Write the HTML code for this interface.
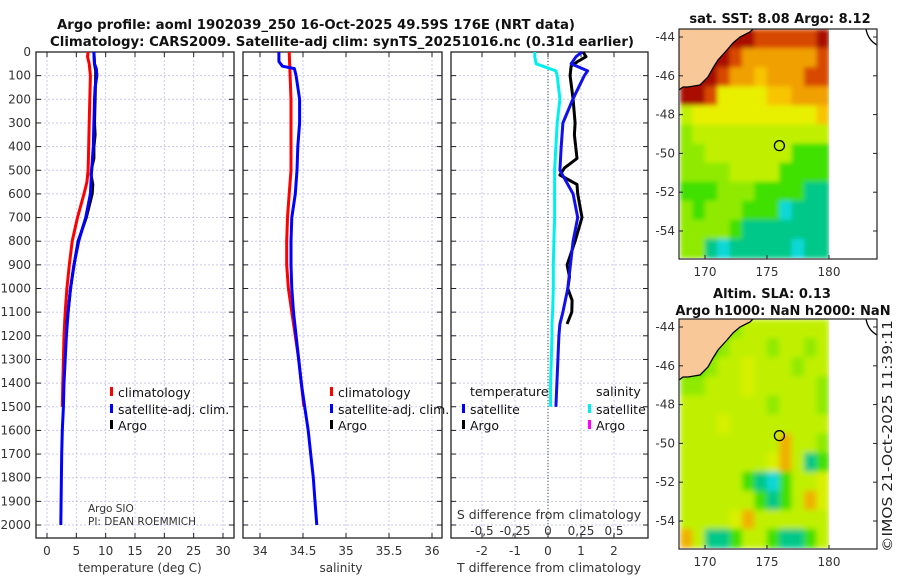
<!DOCTYPE html>
<html><head><meta charset="utf-8"><style>
html,body{margin:0;padding:0;background:#fff;}
svg{display:block;font-family:"DejaVu Sans","Liberation Sans",sans-serif;}
.tk{font-size:12px;fill:#333;}
.lg{font-size:12.5px;fill:#111;}
.tt{font-size:13px;font-weight:bold;fill:#111;}
</style></head><body>
<svg id="fig" width="900" height="580" viewBox="0 0 900 580" xmlns="http://www.w3.org/2000/svg">
<defs>
<filter id="blur1" x="0" y="0" width="1" height="1" filterUnits="objectBoundingBox"><feGaussianBlur stdDeviation="2.5" edgeMode="duplicate"/></filter>
<filter id="blur2" x="0" y="0" width="1" height="1" filterUnits="objectBoundingBox"><feGaussianBlur stdDeviation="3" edgeMode="duplicate"/></filter>
<clipPath id="clip1"><rect x="680" y="29" width="149" height="229"/></clipPath>
<clipPath id="clip2"><rect x="680" y="319" width="149" height="229"/></clipPath>
</defs>
<text class="tt" x="57" y="29" textLength="518" lengthAdjust="spacingAndGlyphs">Argo profile: aoml 1902039_250 16-Oct-2025 49.59S 176E (NRT data)</text>
<text class="tt" x="50" y="46" textLength="584" lengthAdjust="spacingAndGlyphs">Climatology: CARS2009. Satellite-adj clim: synTS_20251016.nc (0.31d earlier)</text>
<g id="panels"></g>
<g id="maps"></g>
<text class="tk" transform="translate(892,436) rotate(-90)" text-anchor="middle" textLength="232" lengthAdjust="spacingAndGlyphs" style="font-size:13px;fill:#222">©IMOS 21-Oct-2025 11:39:11</text>
</svg>
<script>
// ---------- data ----------
const depthTicks = [0,100,200,300,400,500,600,700,800,900,1000,1100,1200,1300,1400,1500,1600,1700,1800,1900,2000];
const tempTicks = [0,5,10,15,20,25,30];
const salTicks = [34,34.5,35,35.5,36];
const salTickLabels = ['34','34.5','35','35.5','36'];
const tdiffTicks = [-2,-1,0,1,2];
const sdiffTickLabels = ['-0,5','-0,25','0','0,25','0,5'];
const sdiffTicks = [-0.5,-0.25,0,0.25,0.5];

const climTempDepth = [0,20,50,100,200,300,400,500,550,600,700,800,900,1000,1100,1200,1300,1400,1500];
const climTemp      = [7.0,6.9,7.2,7.4,7.3,7.2,7.1,7.0,6.8,6.3,5.2,4.3,3.8,3.4,3.1,2.9,2.8,2.7,2.6];
const satTempDepth = [0,50,70,100,150,200,300,400,500,600,700,800,900,1000,1100,1200,1300,1400,1500,1600,1700,1800,1900,2000];
const satTemp      = [8.0,8.1,8.4,8.5,8.2,8.1,8.0,7.9,7.6,7.4,6.6,5.4,4.6,4.0,3.6,3.3,3.1,2.9,2.8,2.6,2.5,2.45,2.4,2.35];
const argoTempDepth = [5,50,80,100,200,300,350,400,450,480,520,560,600,700,800,900,1000,1100,1150];
const argoTemp      = [8.0,8.1,8.3,8.3,8.2,8.1,8.2,8.0,8.0,7.7,7.5,7.8,7.7,6.7,5.3,4.6,4.0,3.6,3.4];

const climSalDepth = [0,100,200,300,500,600,700,800,900,1000,1100,1200,1300,1400,1500];
const climSal      = [34.34,34.35,34.36,34.36,34.36,34.34,34.32,34.31,34.31,34.33,34.37,34.41,34.45,34.48,34.51];
const satSalDepth = [0,40,60,70,100,200,300,400,500,600,700,800,900,1000,1100,1200,1300,1400,1500,1600,1700,1800,1900,2000];
const satSal      = [34.22,34.22,34.26,34.40,34.42,34.46,34.46,34.44,34.43,34.41,34.37,34.36,34.36,34.37,34.39,34.42,34.45,34.48,34.52,34.56,34.59,34.62,34.64,34.66];

const diffDepth = [0,20,50,80,100,200,300,400,500,600,700,800,900,1000,1100,1150,1200,1300,1400,1500];
const satTdiff  = [1.03,0.85,0.7,1.2,1.1,0.75,0.45,0.4,0.36,0.76,0.9,0.76,0.68,0.6,0.45,0.36,0.33,0.3,0.27,0.24];
const satSdiff  = [-0.10,-0.10,-0.09,0.06,0.07,0.09,0.07,0.06,0.05,0.05,0.05,0.045,0.04,0.04,0.035,0.03,0.03,0.025,0.02,0.02];
const argoDiffDepth = [0,20,40,60,100,200,300,350,450,490,520,560,600,700,800,900,950,1000,1050,1100,1150];
const argoTdiff     = [1.06,1.15,0.9,0.7,0.67,0.76,0.82,0.8,0.88,0.5,0.36,0.88,0.9,1.03,0.82,0.58,0.65,0.6,0.73,0.72,0.58];

// ---------- helpers ----------
const NS='http://www.w3.org/2000/svg';
const Y0=52, YB=538, DPX=0.2365;
const yD = d => Y0 + d*DPX;
function mk(tag,attrs,parent){const e=document.createElementNS(NS,tag);for(const k in attrs)e.setAttribute(k,attrs[k]);parent.appendChild(e);return e;}
const panels=document.getElementById('panels');

function frame(x0,x1,xs,xt,name){
  const g=mk('g',{},panels);
  
  
  depthTicks.forEach(d=>{ if(d>0) mk('line',{x1:x0,x2:x1,y1:yD(d),y2:yD(d),stroke:'#c8c8ee','stroke-width':1,'stroke-dasharray':'2,2'},g);});
  xt.forEach(v=>{const x=xs(v); if(x>x0+1&&x<x1-1) mk('line',{x1:x,x2:x,y1:Y0,y2:YB,stroke:'#c8c8ee','stroke-width':1,'stroke-dasharray':'2,2'},g);});
  depthTicks.forEach(d=>{mk('line',{x1:x0,x2:x0+5,y1:yD(d),y2:yD(d),stroke:'#222'},g);mk('line',{x1:x1-5,x2:x1,y1:yD(d),y2:yD(d),stroke:'#222'},g);});
  xt.forEach(v=>{const x=xs(v);mk('line',{x1:x,x2:x,y1:Y0,y2:Y0+5,stroke:'#222'},g);mk('line',{x1:x,x2:x,y1:YB-5,y2:YB,stroke:'#222'},g);});
  mk('rect',{x:x0,y:Y0,width:x1-x0,height:YB-Y0,fill:'none',stroke:'#222','stroke-width':1.3},g);
  return g;
}
function line(g,depths,vals,xs,color,name,w){
  const pts=depths.map((d,i)=>xs(vals[i]).toFixed(1)+','+yD(d).toFixed(1)).join(' ');
  const p=mk('polyline',{points:pts,fill:'none',stroke:color,'stroke-width':w||3,'stroke-linejoin':'round'},g);
  
  
}
function txt(g,x,y,s,cls,anchor,name){const t=mk('text',{x:x,y:y,class:cls,'text-anchor':anchor||'start'},g);t.textContent=s;
  
  
  return t;}
function legendMark(g,x,y,color){mk('rect',{x:x,y:y-10,width:3,height:9,fill:color},g);}

const yl=mk('g',{},panels);


depthTicks.forEach(d=>{txt(yl,31,yD(d)+4,String(d),'tk','end','depth-tick-label');});

// Panel 1: temperature
const xT=v=>47+v*5.867;
const g1=frame(36,234,xT,tempTicks,'temperature-panel');
line(g1,climTempDepth,climTemp,xT,'#ff0000','climatology-temperature-line');
line(g1,argoTempDepth,argoTemp,xT,'#000000','argo-temperature-line');
line(g1,satTempDepth,satTemp,xT,'#0000ff','satellite-temperature-line');
tempTicks.forEach(v=>txt(g1,xT(v),555,String(v),'tk','middle','temperature-tick-label'));
txt(g1,140,572,'temperature (deg C)','tk','middle','temperature-axis-title');
legendMark(g1,110,397,'#ff0000');txt(g1,118,397,'climatology','lg','start','legend-climatology');
legendMark(g1,110,414,'#0000ff');txt(g1,118,414,'satellite-adj. clim.','lg','start','legend-satellite');
legendMark(g1,110,430,'#000');txt(g1,118,430,'Argo','lg','start','legend-argo');
txt(g1,88,512,'Argo SIO','tk','start','argo-institution').style.fontSize='10.5px';
txt(g1,88,525,'PI: DEAN ROEMMICH','tk','start','argo-pi').style.fontSize='10.5px';

// Panel 2: salinity
const xS=v=>260+(v-34)*86;
const g2=frame(243,442,xS,salTicks,'salinity-panel');
line(g2,climSalDepth,climSal,xS,'#ff0000','climatology-salinity-line');
line(g2,satSalDepth,satSal,xS,'#0000ff','satellite-salinity-line');
salTicks.forEach((v,i)=>txt(g2,xS(v),555,salTickLabels[i],'tk','middle','salinity-tick-label'));
txt(g2,341,572,'salinity','tk','middle','salinity-axis-title');
legendMark(g2,330,397,'#ff0000');txt(g2,338,397,'climatology','lg','start','legend-climatology-sal');
legendMark(g2,330,414,'#0000ff');txt(g2,338,414,'satellite-adj. clim.','lg','start','legend-satellite-sal');
legendMark(g2,330,430,'#000');txt(g2,338,430,'Argo','lg','start','legend-argo-sal');

// Panel 3: differences
const xD=v=>548+v*33;
const xSD=v=>548+v*132;
const g3=frame(451,648,xD,tdiffTicks,'difference-panel');
mk('line',{x1:xD(0),x2:xD(0),y1:Y0,y2:YB,stroke:'#335533','stroke-width':1,'stroke-dasharray':'1,2'},g3);
line(g3,diffDepth,satSdiff,xSD,'#00f0f0','satellite-salinity-diff-line');
line(g3,argoDiffDepth,argoTdiff,xD,'#000000','argo-temperature-diff-line');
line(g3,diffDepth,satTdiff,xD,'#1010ee','satellite-temperature-diff-line');
tdiffTicks.forEach(v=>txt(g3,xD(v),555,String(v),'tk','middle','tdiff-tick-label'));
sdiffTicks.forEach((v,i)=>txt(g3,xSD(v),535,sdiffTickLabels[i],'tk','middle','sdiff-tick-label'));
txt(g3,549,519,'S difference from climatology','tk','middle','sdiff-axis-title').style.fontSize='12.5px';
txt(g3,549,572,'T difference from climatology','tk','middle','tdiff-axis-title').style.fontSize='12.5px';
txt(g3,470,396,'temperature','lg','start','legend-temperature-header');
txt(g3,596,396,'salinity','lg','start','legend-salinity-header');
legendMark(g3,462,414,'#0000ff');txt(g3,470,414,'satellite','lg','start','legend-temp-satellite');
legendMark(g3,462,430,'#000');txt(g3,470,430,'Argo','lg','start','legend-temp-argo');
legendMark(g3,588,414,'#00f0f0');txt(g3,596,414,'satellite','lg','start','legend-sal-satellite');
legendMark(g3,588,430,'#ff00ff');txt(g3,596,430,'Argo','lg','start','legend-sal-argo');

// ---------- maps ----------
const colors={L:'#f8c898',R:'#a81000',r:'#d84800',O:'#f0a000',o:'#f8c400',Y:'#e8f000',y:'#c0f000',G:'#90ea00',g:'#40e000',T:'#00c888',C:'#10d8d8',P:'#f0b000',Q:'#d8f000'};
const sstGrid=[
'RRRRRRrrrrrR',
'RRRRrOOOOOOr',
'RRRrOOoOOOrr',
'RRrYYYYooOOO',
'yYYYYYYYYYYo',
'Gyyyyyyyyyyy',
'GGyyyyyyyggg',
'GGGGyyyygggg',
'gggGGGggggTT',
'GgGGGgggCTTT',
'GGGGgTTTTTTT',
'GGTCTTTTTCTT'];
const slaGrid=[
'ggggGyyyyyyy',
'gggGyyyGyyGy',
'ggGyyQyyyGyy',
'GGyyyQyyyyyG',
'yyyyyyyGyyyG',
'yyyQyyyyyyyy',
'yyyyyyyyPyyG',
'yyyyyyyQPyTg',
'yyyyygTCgyyQ',
'yyyyyygTgyPQ',
'yyyyQPyyyyyy',
'PyTTgyygTTgy'];
const lonTicks=[170,175,180];
const latTicks=[-44,-46,-48,-50,-52,-54];
const argoLon=176, argoLat=-49.6;
const maps=document.getElementById('maps');
function drawMap(top,grid,name,title1,title2,filt,clip){
  const g=mk('g',{},maps);
  
  
  const off=top-29;
  const mx=l=>705+(l-170)*12.4;
  const my=p=>37+off+(-44-p)*19.4;
  const cw=12.4, ch=(258-29)/12;
  const cg=mk('g',{'clip-path':'url(#'+clip+')'},g);
  const cells=mk('g',{filter:'url(#'+filt+')'},cg);
  grid.forEach((row,r)=>{[...row].forEach((c,k)=>{
    mk('rect',{x:(680+k*cw).toFixed(1),y:(29+off+r*ch).toFixed(1),width:cw+0.6,height:ch+0.6,fill:colors[c]},cells);
  });});
  const coast=[[679,90],[683,87],[688,87],[700,85],[708,77],[713,68],[718,60],[727,50],[733,43],[740,37],[750,32],[753,29]];
  mk('polygon',{points:'679,'+(29+off)+' '+coast.map(p=>p[0]+','+(p[1]+off)).reverse().join(' ')+' 679,'+(90+off),fill:colors.L},g);
  mk('polyline',{points:coast.map(p=>p[0]+','+(p[1]+off)).join(' '),fill:'none',stroke:'#000','stroke-width':1.3},g);
  mk('path',{d:`M866 ${29+off} Q868 ${40+off} 877 ${45+off}`,fill:'none',stroke:'#000','stroke-width':1.3},g);
  mk('circle',{cx:mx(argoLon),cy:my(argoLat),r:5,fill:'none',stroke:'#000','stroke-width':1.3},g);
  mk('rect',{x:679,y:29+off,width:198,height:230,fill:'none',stroke:'#222','stroke-width':1.2},g);
  lonTicks.forEach(l=>{mk('line',{x1:mx(l),x2:mx(l),y1:259+off,y2:255+off,stroke:'#222'},g);txt(g,mx(l),276+off,String(l),'tk','middle','lon-tick-label');});
  latTicks.forEach(p=>{mk('line',{x1:679,x2:683,y1:my(p),y2:my(p),stroke:'#222'},g);mk('line',{x1:873,x2:877,y1:my(p),y2:my(p),stroke:'#222'},g);txt(g,675,my(p)+4,String(p),'tk','end','lat-tick-label');});
  if(title2){txt(g,772,298,title1,'tt','middle','map-title');txt(g,783,315,title2,'tt','middle','map-subtitle');}
  else txt(g,780,23,title1,'tt','middle','map-title');
}
drawMap(29,sstGrid,'sst-map','sat. SST: 8.08 Argo: 8.12',null,'blur1','clip1');
drawMap(319,slaGrid,'sla-map','Altim. SLA: 0.13','Argo h1000: NaN h2000: NaN','blur2','clip2');
</script>
</body></html>
